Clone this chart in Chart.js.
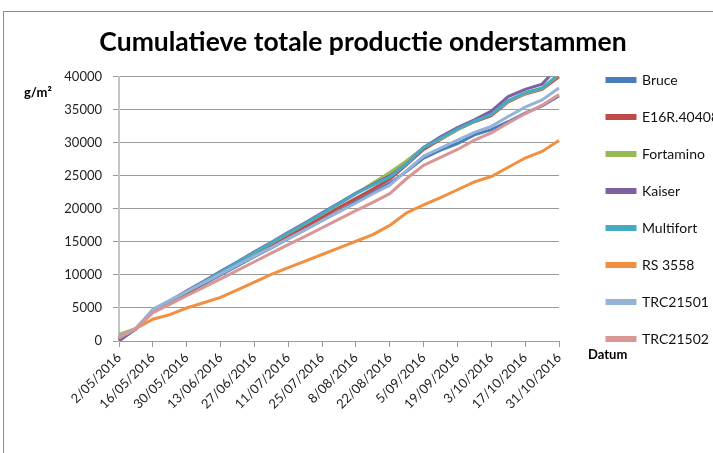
<!DOCTYPE html>
<html>
<head>
<meta charset="utf-8">
<script src="https://cdn.jsdelivr.net/npm/chart.js@4"></script>
<style>
  html, body { margin: 0; padding: 0; background: #fff; overflow: hidden; }
  #wrap { position: relative; width: 713px; height: 453px; }
  #frame { position: absolute; left: 3px; top: 11px; width: 800px; height: 600px;
           border: 1px solid #8c8c8c; pointer-events: none; }
  .axt { position: absolute; font: bold 13px Lato, sans-serif; color: #000; }
</style>
</head>
<body>
<div id="wrap">
  <canvas id="chart" width="713" height="453"></canvas>
  <div id="frame"></div>
  <div class="axt" style="left:24px; top:84px;">g/m²</div>
  <div class="axt" style="left:588px; top:346px;">Datum</div>
</div>
<script>
// ---------- DATA ----------
const dates = [
  "2/05/2016", "9/05/2016", "16/05/2016", "23/05/2016", "30/05/2016", "6/06/2016",
  "13/06/2016", "20/06/2016", "27/06/2016", "4/07/2016", "11/07/2016", "18/07/2016",
  "25/07/2016", "1/08/2016", "8/08/2016", "15/08/2016", "22/08/2016", "29/08/2016",
  "5/09/2016", "12/09/2016", "19/09/2016", "26/09/2016", "3/10/2016", "10/10/2016",
  "17/10/2016", "24/10/2016", "31/10/2016"
];

const bruce = [200, 1800, 4500, 5850, 7250, 8600, 10000, 11350, 12750, 14100, 15500, 16850, 18250, 19650,
  21100, 22500, 23900, 25700, 27700, 28900, 29900, 31200, 32000, 33200, 34500, 35600, 37100];
const e16r = [300, 1800, 4500, 5900, 7350, 8750, 10200, 11600, 13050, 14450, 15900, 17300, 18750, 20200,
  21600, 23000, 24500, 26700, 29000, 30500, 32000, 33200, 34100, 36200, 37400, 38100, 40000];
const fortamino = [1000, 1900, 4500, 5950, 7450, 8900, 10400, 11850, 13350, 14800, 16300, 17750, 19250, 20750,
  22300, 23900, 25500, 27300, 29300, 30600, 32000, 33300, 34300, 36300, 37500, 38200, 40300];
const kaiser = [0, 1850, 4600, 6100, 7600, 9050, 10550, 12000, 13500, 14950, 16450, 17900, 19400, 20900,
  22400, 23700, 25000, 26800, 29300, 30900, 32300, 33500, 34800, 37000, 38100, 38900, 41600];
const multifort = [400, 1850, 4550, 6000, 7500, 8950, 10450, 11900, 13400, 14850, 16350, 17800, 19300, 20800,
  22300, 23600, 24800, 26800, 29300, 30700, 32100, 33300, 34300, 36400, 37600, 38300, 40400];
const rs3558 = [500, 1900, 3300, 4000, 5000, 5800, 6600, 7750, 8900, 10100, 11100, 12100, 13100, 14100,
  15100, 16100, 17500, 19400, 20600, 21700, 22900, 24100, 24900, 26300, 27700, 28700, 30350];
const trc21501 = [700, 1900, 4800, 6150, 7500, 8800, 10150, 11500, 12850, 14150, 15500, 16850, 18200, 19550,
  20900, 22300, 23600, 25800, 28000, 29200, 30400, 31600, 32500, 34000, 35400, 36500, 38300];
const trc21502 = [600, 1800, 4300, 5550, 6850, 8100, 9400, 10700, 12000, 13300, 14600, 15850, 17150, 18450,
  19750, 21000, 22300, 24600, 26600, 27800, 29000, 30400, 31500, 33000, 34400, 35700, 37300];

const names = ["Bruce", "E16R.40408", "Fortamino", "Kaiser", "Multifort", "RS 3558", "TRC21501", "TRC21502"];
const series = [bruce, e16r, fortamino, kaiser, multifort, rs3558, trc21501, trc21502];
const colors = ["#4a7ebb", "#be4b48", "#98b954", "#7d60a0", "#46aac5", "#f09040", "#95b3d7", "#d99694"];

const yTicks = [0, 5000, 10000, 15000, 20000, 25000, 30000, 35000, 40000];

// ---------- NUDGE legend + title to the reference spots ----------
const boxShift = {
  id: "boxShift",
  afterLayout(chart) {
    chart.legend.left += 25;
    chart.legend.right += 25;
    chart.legend.top += 2;
    chart.legend.bottom += 2;
    chart.titleBlock.left += 11;
    chart.titleBlock.right += 11;
  }
};

// ---------- CHART ----------
new Chart(document.getElementById("chart"), {
  type: "line",
  data: {
    labels: dates,
    datasets: series.map((d, i) => ({
      label: names[i],
      data: d,
      borderColor: colors[i],
      backgroundColor: colors[i],
      borderWidth: 3,
      pointRadius: 0,
      tension: 0,
      order: series.length - i
    }))
  },
  options: {
    responsive: false,
    animation: false,
    layout: { padding: { top: 0, right: 9, bottom: 38, left: 0 } },
    plugins: {
      title: {
        display: true,
        text: "Cumulatieve totale productie onderstammen",
        color: "#000",
        font: { family: "Lato", size: 26.5, weight: "bold" },
        padding: { top: 27, bottom: 18 }
      },
      legend: {
        position: "right",
        align: "center",
        labels: {
          boxWidth: 28,
          boxHeight: 3,
          padding: 23,
          color: "#111",
          font: { family: "Lato", size: 14 },
          sort: (a, b) => a.datasetIndex - b.datasetIndex
        }
      },
      tooltip: { enabled: false }
    },
    scales: {
      x: {
        offset: false,
        grid: {
          drawOnChartArea: false,
          tickLength: 6,
          tickColor: c => (c.index % 2 ? "rgba(0,0,0,0)" : "#9a9a9a")
        },
        border: { color: "#9a9a9a", width: 1 },
        ticks: {
          autoSkip: false,
          minRotation: 45,
          maxRotation: 45,
          color: "#222",
          font: { family: "Lato", size: 13 },
          callback: function (v, i) { return i % 2 ? "" : dates[i]; }
        }
      },
      y: {
        min: 0,
        max: 40000,
        afterFit: s => { s.width = 119; },
        afterBuildTicks: s => { s.ticks = yTicks.map(v => ({ value: v })); },
        grid: { color: "#9a9a9a", tickColor: "#9a9a9a", tickLength: 6 },
        border: { color: "#c4c4c4", width: 2 },
        ticks: {
          padding: 11,
          color: "#222",
          font: { family: "Lato", size: 13 },
          callback: v => String(v)
        }
      }
    }
  },
  plugins: [boxShift]
});
</script>
</body>
</html>
